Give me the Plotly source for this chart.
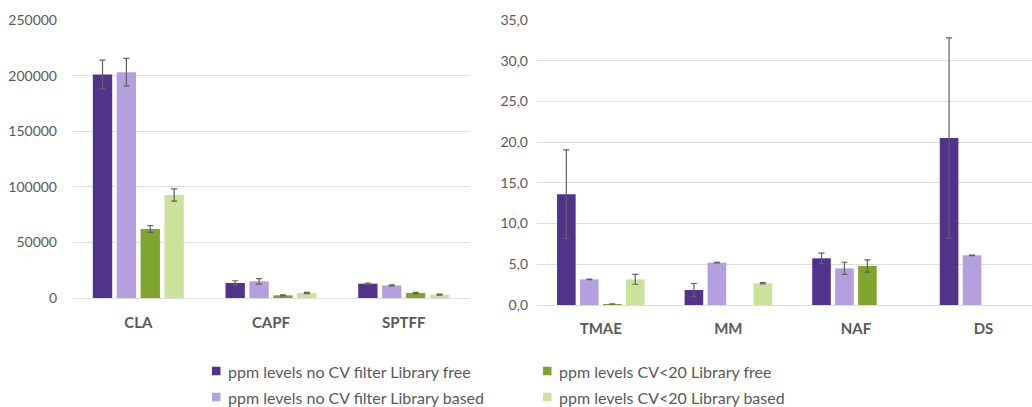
import plotly.graph_objects as go

# ---- data ----
left_categories = ["CLA", "CAPF", "SPTFF"]
left_nocv_free = [201000, 13500, 12900]
left_nocv_free_err = [13000, 2000, 600]
left_nocv_based = [203000, 15000, 11300]
left_nocv_based_err = [12500, 2500, 600]
left_cv20_free = [62000, 2400, 4500]
left_cv20_free_err = [3000, 500, 500]
left_cv20_based = [92600, 4500, 3000]
left_cv20_based_err = [5500, 600, 400]

right_categories = ["TMAE", "MM", "NAF", "DS"]
right_nocv_free = [13.6, 1.84, 5.73, 20.5]
right_nocv_free_err = [5.45, 0.8, 0.65, 12.3]
right_nocv_based = [3.15, 5.2, 4.5, 6.1]
right_nocv_based_err = [0.03, 0.03, 0.75, 0.03]
right_cv20_free = [0.12, None, 4.79, None]
right_cv20_free_err = [0.03, None, 0.75, None]
right_cv20_based = [3.15, 2.66, None, None]
right_cv20_based_err = [0.6, 0.08, None, None]

series_names = [
    "ppm levels no CV filter Library free",
    "ppm levels no CV filter Library based",
    "ppm levels CV<20 Library free",
    "ppm levels CV<20 Library based",
]
colors = ["#51338C", "#B4A0DE", "#80A52E", "#CCE29B"]

FONT = "Lato"
TEXT = "#595959"
GRID = "#DDDDDD"
W, H = 1032, 407


def px_x(p):
    return p / W


def px_y(p):
    return (H - p) / H


fig = go.Figure()

left_sets = [
    (left_nocv_free, left_nocv_free_err),
    (left_nocv_based, left_nocv_based_err),
    (left_cv20_free, left_cv20_free_err),
    (left_cv20_based, left_cv20_based_err),
]
right_sets = [
    (right_nocv_free, right_nocv_free_err),
    (right_nocv_based, right_nocv_based_err),
    (right_cv20_free, right_cv20_free_err),
    (right_cv20_based, right_cv20_based_err),
]

for i, (vals, errs) in enumerate(left_sets):
    fig.add_trace(go.Bar(
        x=left_categories, y=vals, name=series_names[i],
        marker=dict(color=colors[i], line=dict(width=0)),
        error_y=dict(type="data", array=errs, visible=True,
                     color="#606060", thickness=1.2, width=3),
        xaxis="x", yaxis="y", showlegend=False, offsetgroup=str(i),
    ))

for i, (vals, errs) in enumerate(right_sets):
    fig.add_trace(go.Bar(
        x=right_categories, y=vals, name=series_names[i],
        marker=dict(color=colors[i], line=dict(width=0)),
        error_y=dict(type="data", array=errs, visible=True,
                     color="#606060", thickness=1.2, width=3),
        xaxis="x2", yaxis="y2", showlegend=False, offsetgroup=str(i),
    ))

xaxis_common = dict(showgrid=False, showline=False, ticks="", automargin=False,
                    tickfont=dict(family=FONT, size=15, color=TEXT, weight="bold"))
yaxis_common = dict(showgrid=True, gridcolor=GRID, gridwidth=1,
                    zeroline=True, zerolinecolor=GRID, zerolinewidth=1,
                    showline=False, ticks="", automargin=False,
                    tickfont=dict(family=FONT, size=14, color=TEXT))

fig.update_layout(
    width=W, height=H,
    margin=dict(l=0, r=0, t=0, b=0, autoexpand=False),
    paper_bgcolor="white", plot_bgcolor="white",
    barmode="group", bargap=0.28, bargroupgap=0.19,
    separators=",.",
    showlegend=False,
    xaxis=dict(domain=[px_x(72), px_x(470)], range=[-0.5, 2.5],
               anchor="y", ticklabelstandoff=14, **xaxis_common),
    yaxis=dict(domain=[px_y(298), px_y(20)], range=[0, 250000],
               dtick=50000, tickformat="d", anchor="x",
               ticklabelstandoff=14, **yaxis_common),
    xaxis2=dict(domain=[px_x(537), 1.0], range=[-0.5, 3.38],
                anchor="y2", ticklabelstandoff=13, **xaxis_common),
    yaxis2=dict(domain=[px_y(305), px_y(20)], range=[0, 35],
                dtick=5, tickformat=".1f", anchor="x2",
                ticklabelstandoff=8, **yaxis_common),
)

# legend drawn as two columns of swatches and labels below the charts
legend_slots = [
    (212, 371), (212, 397), (543, 371), (543, 397),
]
for i, (lx, ly) in enumerate(legend_slots):
    fig.add_shape(type="rect", xref="paper", yref="paper",
                  x0=px_x(lx), x1=px_x(lx + 8.5),
                  y0=px_y(ly + 4.25), y1=px_y(ly - 4.25),
                  fillcolor=colors[i], line=dict(width=0))
    fig.add_annotation(x=px_x(lx + 14), y=px_y(ly), xref="paper", yref="paper",
                       text=series_names[i], showarrow=False,
                       xanchor="left", yanchor="middle",
                       font=dict(family=FONT, size=16, color=TEXT))

fig.write_html("out.html")
